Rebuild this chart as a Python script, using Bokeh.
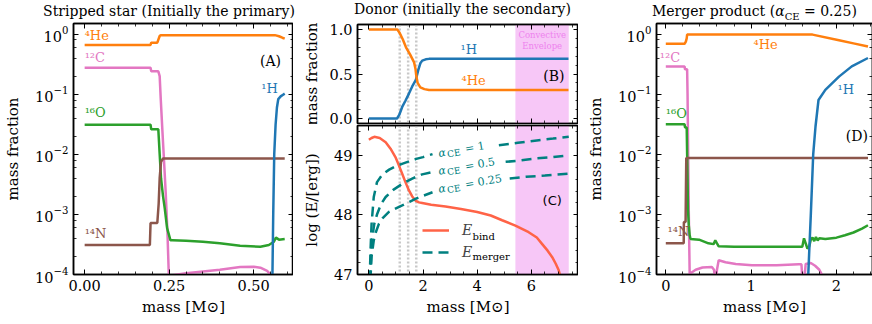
import math
from bokeh.plotting import figure
from bokeh.models import (Range1d, SingleIntervalTicker, LogTicker, LinearAxis,
                          NumeralTickFormatter, BoxAnnotation, Span, Label,
                          Legend, LegendItem, Div)
from bokeh.layouts import row, column
from bokeh.core.properties import value
from bokeh.embed import file_html
from bokeh.resources import INLINE

nan = float("nan")
SERIF = "DejaVu Serif"
ORANGE, PINK, GREEN, BROWN, BLUE = "#ff7f0e", "#e377c2", "#2ca02c", "#8c564b", "#1f77b4"
TEAL, TOMATO = "#008080", "#ff6347"

# ---------------- Panel A : stripped star ----------------
a_he_x = [0, 0.195, 0.197, 0.215, 0.222, 0.225, 0.3, 0.4, 0.5, 0.563, 0.575, 0.585, 0.592]
a_he_y = [0.66, 0.66, 0.72, 0.72, 0.93, 0.96, 0.96, 0.96, 0.96, 0.96, 0.92, 0.87, 0.84]
a_c_x = [0, 0.195, 0.197, 0.218, 0.222, 0.225, 0.23, 0.235, 0.24, 0.245, 0.249, 0.25,
         0.3, 0.4, 0.46, 0.5, 0.52, 0.54, 0.55, 0.56]
a_c_y = [0.275, 0.275, 0.24, 0.24, 0.2, 0.087, 0.025, 7.6e-3, 2.2e-3, 5e-4, 1e-4, 9.5e-5,
         1.05e-4, 1.2e-4, 1.33e-4, 1.35e-4, 1.3e-4, 1.15e-4, 1.0e-4, 7e-5]
a_o_x = [0, 0.195, 0.197, 0.218, 0.222, 0.226, 0.232, 0.237, 0.244, 0.254, 0.26, 0.3,
         0.35, 0.4, 0.46, 0.52, 0.545, 0.56, 0.566, 0.575, 0.592]
a_o_y = [0.031, 0.031, 0.026, 0.026, 0.01, 4e-3, 2e-3, 1.26e-3, 5.9e-4, 3.7e-4, 3.7e-4, 3.65e-4,
         3.5e-4, 3.3e-4, 3.0e-4, 2.9e-4, 3.1e-4, 3.5e-4, 4.1e-4, 3.8e-4, 3.9e-4]
a_n_x = [0, 0.193, 0.195, 0.215, 0.219, 0.222, 0.226, 0.232, 0.592]
a_n_y = [3.1e-4, 3.1e-4, 7.2e-4, 7.2e-4, 1.5e-3, 4e-3, 7.5e-3, 8.5e-3, 8.5e-3]
a_h_x = [0.555, 0.558, 0.561, 0.565, 0.569, 0.573, 0.58, 0.586, 0.592]
a_h_y = [5e-5, 1e-3, 1e-2, 0.031, 0.06, 0.083, 0.092, 0.097, 0.102]

# ---------------- Panel B : donor composition ----------------
b_he_x = [0, 1.05, 1.12, 1.25, 1.37, 1.52, 1.67, 1.72, 1.75, 1.8, 1.9, 2.05, 2.22, 3, 5, 7.37]
b_he_y = [1.0, 1.0, 0.97, 0.89, 0.80, 0.72, 0.63, 0.56, 0.48, 0.40, 0.35, 0.33, 0.32, 0.32, 0.32, 0.32]
b_h_x = [0, 1.04, 1.12, 1.23, 1.35, 1.48, 1.6, 1.73, 1.82, 1.9, 1.97, 2.1, 2.22, 3, 5, 7.37]
b_h_y = [0, 0, 0.04, 0.13, 0.2, 0.28, 0.36, 0.43, 0.54, 0.62, 0.65, 0.665, 0.67, 0.67, 0.67, 0.67]
dotted_x = [1.14, 1.45, 1.75]
conv_env = (5.41, 7.38)

# ---------------- Panel C : energies ----------------
c_bind_x = [0, 0.1, 0.2, 0.4, 0.62, 0.8, 0.98, 1.1, 1.23, 1.35, 1.48, 1.6, 1.72, 1.85, 1.97,
            2.3, 2.83, 3.4, 4.0, 4.5, 4.92, 5.41, 5.9, 6.2, 6.4, 6.6, 6.77, 6.9, 7.01, 7.08]
c_bind_y = [49.26, 49.29, 49.31, 49.29, 49.22, 49.11, 48.97, 48.84, 48.69, 48.55, 48.41, 48.31,
            48.24, 48.21, 48.20, 48.17, 48.14, 48.10, 48.05, 47.99, 47.91, 47.82, 47.71, 47.62,
            47.51, 47.40, 47.29, 47.18, 47.07, 46.95]
c_m1_x = [0.03, 0.06, 0.1, 0.18, 0.3, 0.5, 0.75, 1.0, 1.25, 1.5, 1.75, 2.0, 2.35, nan,
          4.8, 5.5, 6.2, 6.8, 7.38]
c_m1_y = [46.9, 47.4, 47.85, 48.3, 48.55, 48.68, 48.76, 48.82, 48.86, 48.9, 48.94, 48.97, 49.02, nan,
          49.17, 49.21, 49.25, 49.28, 49.31]
c_m05_x = [0.045, 0.08, 0.12, 0.2, 0.31, 0.45, 0.62, 0.9, 1.23, 1.6, 1.97, 2.35, nan,
           5.05, 5.5, 6.2, 6.8, 7.38]
c_m05_y = [46.9, 47.3, 47.6, 47.85, 48.02, 48.18, 48.3, 48.42, 48.52, 48.61, 48.68, 48.72, nan,
           48.89, 48.91, 48.95, 48.97, 49.0]
c_m025_x = [0.055, 0.1, 0.18, 0.25, 0.37, 0.5, 0.74, 1.0, 1.23, 1.5, 1.72, 2.0, 2.35, nan,
            5.2, 5.8, 6.5, 7.38]
c_m025_y = [46.9, 47.3, 47.57, 47.7, 47.85, 47.94, 48.05, 48.11, 48.16, 48.22, 48.27, 48.32, 48.38, nan,
            48.61, 48.64, 48.66, 48.69]
alpha_lab_x = [2.57, 2.57, 2.57]
alpha_lab_y = [49.03, 48.73, 48.43]
alpha_lab_val = ["= 1", "= 0.5", "= 0.25"]

# ---------------- Panel D : merger product ----------------
d_he_x = [0, 0.22, 0.235, 0.245, 0.25, 0.27, 1.0, 1.72, 2.03, 2.2, 2.37]
d_he_y = [0.69, 0.69, 0.75, 0.85, 0.98, 0.98, 0.98, 0.98, 0.79, 0.70, 0.62]
d_c_x = [0, 0.22, 0.225, 0.25, 0.255, 0.26, 0.265, 0.27, 0.275, 0.28, 0.29, 0.35, 0.43, 0.54,
         0.565, 0.575, 0.59, 0.6, 0.62, 0.7, 0.82, 1.01, 1.3, 1.56, 1.59, 1.605, 1.62, 1.64,
         1.7, 1.75, 1.8, 1.83, 1.86]
d_c_y = [0.29, 0.29, 0.26, 0.26, 0.1, 0.02, 4e-3, 1e-3, 3e-4, 1e-4, 1.05e-4, 1.2e-4, 1.31e-4, 1.33e-4,
         1.2e-4, 9e-5, 9e-5, 1.2e-4, 1.73e-4, 1.6e-4, 1.5e-4, 1.42e-4, 1.42e-4, 1.48e-4, 1.48e-4, 7e-5,
         7e-5, 1.5e-4, 1.55e-4, 1.4e-4, 1.2e-4, 1.0e-4, 8e-5]
d_o_x = [0, 0.22, 0.225, 0.245, 0.25, 0.255, 0.26, 0.27, 0.28, 0.29, 0.39, 0.5, 0.56, 0.58, 0.6,
         0.62, 0.8, 1.2, 1.6, 1.62, 1.64, 1.66, 1.68, 1.7, 1.72, 1.74, 1.76, 1.78, 1.8, 1.87,
         2.0, 2.1, 2.2, 2.3, 2.37]
d_o_y = [0.0316, 0.0316, 0.028, 0.028, 0.01, 4e-3, 1.2e-3, 6.5e-4, 4.5e-4, 3.9e-4, 3.8e-4, 3.3e-4,
         3.2e-4, 3.7e-4, 3.3e-4, 2.95e-4, 2.9e-4, 2.9e-4, 2.9e-4, 4.0e-4, 3.3e-4, 2.7e-4, 2.9e-4,
         3.8e-4, 4.1e-4, 3.6e-4, 4.2e-4, 3.7e-4, 4.0e-4, 3.9e-4, 4.1e-4, 4.5e-4, 5.0e-4, 5.8e-4, 6.6e-4]
d_n_x = [0, 0.21, 0.212, 0.232, 0.24, 2.37]
d_n_y = [3.3e-4, 3.3e-4, 7.5e-4, 7.5e-4, 8.7e-3, 8.7e-3]
d_h_x = [1.66, 1.67, 1.70, 1.728, 1.755, 1.79, 1.87, 2.03, 2.18, 2.37]
d_h_y = [5e-5, 1e-4, 1e-3, 1e-2, 0.029, 0.08, 0.118, 0.196, 0.29, 0.40]

# panel titles
title_a = "Stripped star (Initially the primary)"
title_b = "Donor (initially the secondary)"
title_d = "Merger product (<i>α</i><sub style='font-size:10px'>CE</sub> = 0.25)"


def make_fig(xr, yr, fw, fh, left, right, top, bottom, ylog=False):
    p = figure(x_range=Range1d(*xr), y_range=Range1d(*yr), frame_width=fw, frame_height=fh,
               y_axis_type="log" if ylog else "linear", output_backend="svg",
               toolbar_location=None, title=None,
               min_border_left=left, min_border_right=right,
               min_border_top=top, min_border_bottom=bottom)
    p.outline_line_color = "black"
    p.outline_line_width = 1.5
    p.outline_line_alpha = 1
    p.grid.visible = False
    p.background_fill_color = "white"
    p.border_fill_color = "white"
    return p


def style_axis(ax, label_size="14.5px"):
    ax.major_tick_in = 5
    ax.major_tick_out = 0
    ax.minor_tick_in = 3
    ax.minor_tick_out = 0
    ax.major_tick_line_color = "black"
    ax.minor_tick_line_color = "black"
    ax.major_tick_line_width = 1
    ax.minor_tick_line_width = 0.8
    ax.axis_line_color = "black"
    ax.axis_line_width = 1.5
    ax.major_label_text_font = SERIF
    ax.major_label_text_font_size = label_size
    ax.major_label_text_color = "black"
    ax.major_label_standoff = 5
    ax.axis_label_text_font = SERIF
    ax.axis_label_text_font_size = "15px"
    ax.axis_label_text_font_style = "normal"
    ax.axis_label_text_color = "black"


def hide_labels(ax):
    ax.major_label_text_color = None
    ax.major_label_text_font_size = "1px"
    ax.major_label_standoff = 0
    ax.axis_label = None


def add_mirror(p, side, ticker):
    ax = LinearAxis(ticker=ticker)
    style_axis(ax)
    hide_labels(ax)
    p.add_layout(ax, side)


def screen_label(p, x, y, text, size="14px", style="normal", align="left",
                 baseline="alphabetic", color="black", font=SERIF):
    p.add_layout(Label(x=x, y=y, x_units="screen", y_units="screen", text=text,
                       text_font=font, text_font_size=size, text_font_style=style,
                       text_align=align, text_baseline=baseline, text_color=color))


def tlabels(p, xs, ys, texts, colors, size="13px", align="left", font=SERIF):
    p.text(xs, ys, text=texts, text_color=colors, text_font=value(font),
           text_font_size=size, text_align=align, text_baseline="middle")


# ---------- title row (HTML) ----------
font_css = "font-family:'DejaVu Serif',serif !important; font-size:14px; color:black;"
span_css = "position:absolute; white-space:nowrap; line-height:16px; " + font_css
title_html = (
    f"<div style=\"position:relative; width:870px; height:20px; {font_css}\">"
    f"<span style=\"{span_css} left:0px; width:336px; top:2px; text-align:center;\">{title_a}</span>"
    f"<span style=\"{span_css} left:311px; width:301px; top:0px; text-align:center;\">{title_b}</span>"
    f"<span style=\"{span_css} left:651px; top:2px;\">{title_d}</span>"
    "</div>")
titles = Div(text=title_html, width=870, height=20, margin=0,
             styles={"font-family": "'DejaVu Serif', serif", "font-size": "14px"})

# ---------- Panel A ----------
pA = make_fig((-0.033, 0.618), (1e-4, 1.5), 220, 251, 67, 0, 2, 46, ylog=True)
ax_x = SingleIntervalTicker(interval=0.25, num_minor_ticks=5)
ax_y = LogTicker()
pA.xaxis[0].ticker = ax_x
pA.yaxis[0].ticker = ax_y
pA.xaxis[0].formatter = NumeralTickFormatter(format="0.00")
for ax in pA.axis:
    style_axis(ax)
pA.yaxis[0].axis_label_standoff = 10
pA.xaxis[0].axis_label_standoff = 4
pA.xaxis[0].axis_label = "mass [M⊙]"
pA.yaxis[0].axis_label = "mass fraction"
add_mirror(pA, "above", ax_x)
add_mirror(pA, "right", ax_y)
pA.line(a_he_x, a_he_y, line_color=ORANGE, line_width=2.5)
pA.line(a_c_x, a_c_y, line_color=PINK, line_width=2.5)
pA.line(a_o_x, a_o_y, line_color=GREEN, line_width=2.5)
pA.line(a_n_x, a_n_y, line_color=BROWN, line_width=2.5)
pA.line(a_h_x, a_h_y, line_color=BLUE, line_width=2.5)
tlabels(pA, [0.0, 0.0, 0.0, 0.0], [0.93, 0.41, 0.049, 4.9e-4],
        ["⁴He", "¹²C", "¹⁶O", "¹⁴N"], [ORANGE, PINK, GREEN, BROWN])
tlabels(pA, [0.547], [0.124], ["¹H"], [BLUE], align="center")
tlabels(pA, [0.55], [0.36], ["(A)"], ["black"], size="14px", align="center")

# ---------- Panel B ----------
xrBC = (-0.42, 7.74)
bc_x = SingleIntervalTicker(interval=2, num_minor_ticks=4)
pB = make_fig(xrBC, (-0.056, 1.056), 221, 99, 64, 0, 3, 1)
b_y = SingleIntervalTicker(interval=0.5, num_minor_ticks=5)
pB.xaxis[0].ticker = bc_x
pB.yaxis[0].ticker = b_y
pB.yaxis[0].formatter = NumeralTickFormatter(format="0.0")
for ax in pB.axis:
    style_axis(ax)
hide_labels(pB.xaxis[0])
pB.yaxis[0].axis_label = "mass fraction"
pB.yaxis[0].axis_label_standoff = 5
add_mirror(pB, "above", bc_x)
add_mirror(pB, "right", b_y)

# ---------- Panel C ----------
pC = make_fig(xrBC, (47, 49.5), 221, 149, 64, 0, 1, 46)
c_y = SingleIntervalTicker(interval=1, num_minor_ticks=5)
pC.xaxis[0].ticker = bc_x
pC.yaxis[0].ticker = c_y
for ax in pC.axis:
    style_axis(ax)
pC.xaxis[0].axis_label = "mass [M⊙]"
pC.xaxis[0].axis_label_standoff = 4
pC.yaxis[0].axis_label = "log (E/[erg])"
pC.yaxis[0].axis_label_standoff = 10
add_mirror(pC, "above", bc_x)
add_mirror(pC, "right", c_y)

for p in (pB, pC):
    p.add_layout(BoxAnnotation(left=conv_env[0], right=conv_env[1], fill_color="violet",
                               fill_alpha=0.45, line_color=None, level="underlay"))
    for xv in dotted_x:
        p.add_layout(Span(location=xv, dimension="height", line_color="#c8c8c8",
                          line_width=2.5, line_dash="2 2", level="underlay"))

pB.line(b_h_x, b_h_y, line_color=BLUE, line_width=2.5)
pB.line(b_he_x, b_he_y, line_color=ORANGE, line_width=2.5)
tlabels(pB, [3.69], [0.78], ["¹H"], [BLUE], align="center")
tlabels(pB, [3.87], [0.43], ["⁴He"], [ORANGE], align="center")
tlabels(pB, [6.83], [0.48], ["(B)"], ["black"], size="14px", align="center")
tlabels(pB, [6.4, 6.4], [0.94, 0.82], ["Convective", "Envelope"], ["violet", "violet"],
        size="8.5px", align="center")

r_bind = pC.line(c_bind_x, c_bind_y, line_color=TOMATO, line_width=2.5)
r_m1 = pC.line(c_m1_x, c_m1_y, line_color=TEAL, line_width=2.5, line_dash="10 6")
pC.line(c_m05_x, c_m05_y, line_color=TEAL, line_width=2.5, line_dash="10 6")
pC.line(c_m025_x, c_m025_y, line_color=TEAL, line_width=2.5, line_dash="10 6")

th = 0.17
ct, st = math.cos(th), math.sin(th)
pieces = [(["α"] * 3, 0.0, 0.0, "11px", "italic"),
          (["CE"] * 3, 8.5, 2.5, "9px", "normal"),
          (alpha_lab_val, 27.0, 0.0, "11px", "normal")]
for texts, d, drop, fs, fst in pieces:
    pC.text(alpha_lab_x, alpha_lab_y, text=texts, angle=th,
            x_offset=d * ct + drop * st, y_offset=-d * st + drop * ct,
            text_color=TEAL, text_font=value(SERIF), text_font_size=fs,
            text_font_style=fst, text_align="left", text_baseline="middle")

tlabels(pC, [6.77], [48.24], ["(C)"], ["black"], size="13px", align="center", font="DejaVu Sans")
legend = Legend(items=[LegendItem(label="E", renderers=[r_bind]),
                       LegendItem(label="E", renderers=[r_m1])],
                location=(65, 13), orientation="vertical", border_line_color=None,
                background_fill_alpha=0, padding=0, margin=0, spacing=4,
                glyph_width=27, glyph_height=18, label_standoff=13, label_height=18,
                label_text_font=SERIF, label_text_font_size="14px",
                label_text_font_style="italic")
pC.add_layout(legend)
screen_label(pC, 115, 38, "bind", size="10px", baseline="middle")
screen_label(pC, 115, 18, "merger", size="10px", baseline="middle")

# ---------- Panel D ----------
pD = make_fig((-0.109, 2.423), (1e-4, 1.5), 216, 251, 78, 4, 2, 46, ylog=True)
d_x = SingleIntervalTicker(interval=1, num_minor_ticks=5)
d_y = LogTicker()
pD.xaxis[0].ticker = d_x
pD.yaxis[0].ticker = d_y
for ax in pD.axis:
    style_axis(ax)
pD.xaxis[0].axis_label = "mass [M⊙]"
pD.xaxis[0].axis_label_standoff = 4
pD.yaxis[0].axis_label = "mass fraction"
pD.yaxis[0].axis_label_standoff = 10
add_mirror(pD, "above", d_x)
add_mirror(pD, "right", d_y)
pD.line(d_he_x, d_he_y, line_color=ORANGE, line_width=2.5)
pD.line(d_c_x, d_c_y, line_color=PINK, line_width=2.5)
pD.line(d_o_x, d_o_y, line_color=GREEN, line_width=2.5)
pD.line(d_n_x, d_n_y, line_color=BROWN, line_width=2.5)
pD.line(d_h_x, d_h_y, line_color=BLUE, line_width=2.5)
tlabels(pD, [-0.07, 0.0, 0.02], [0.41, 0.048, 5.1e-4], ["¹²C", "¹⁶O", "¹⁴N"], [PINK, GREEN, BROWN])
tlabels(pD, [1.17, 2.11], [0.66, 0.118], ["⁴He", "¹H"], [ORANGE, BLUE], align="center")
tlabels(pD, [2.24], [0.020], ["(D)"], ["black"], size="14px", align="center")

layout = column(titles, row(pA, column(pB, pC), pD), margin=(1, 0, 0, 1))
open("out.html", "w").write(file_html(layout, INLINE))
